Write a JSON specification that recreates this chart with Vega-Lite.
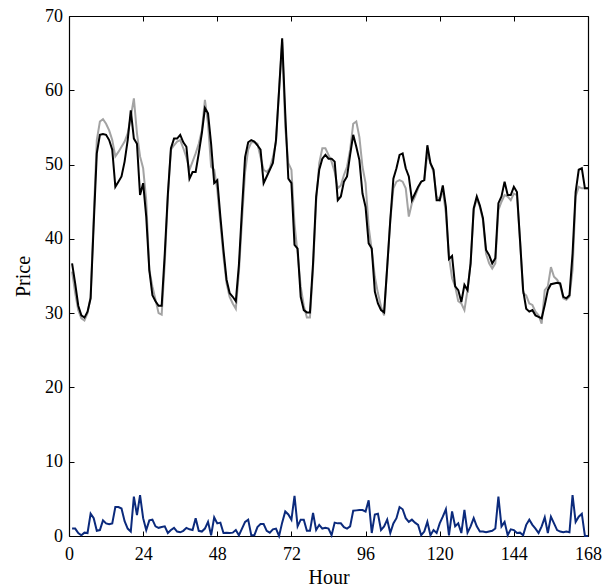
{
  "$schema": "https://vega.github.io/schema/vega-lite/v6.json",
  "width": 519,
  "height": 520,
  "autosize": {"type": "none"},
  "padding": {"left": 69, "top": 16, "right": 25, "bottom": 52},
  "background": "white",
  "config": {
    "view": {"stroke": null},
    "font": "Liberation Serif",
    "axis": {
      "grid": false,
      "domainColor": "black",
      "domainWidth": 1.2,
      "tickColor": "black",
      "tickWidth": 1,
      "tickSize": -5,
      "labelFont": "Liberation Serif",
      "labelFontSize": 18,
      "labelColor": "black",
      "titleFont": "Liberation Serif",
      "titleFontSize": 20,
      "titleFontWeight": "normal",
      "titleColor": "black"
    }
  },
  "data": {"values": [
    {"h":1,"forecast":36.7,"actual":35.6,"error":1.0},
    {"h":2,"forecast":34.0,"actual":32.7,"error":1.0},
    {"h":3,"forecast":31.0,"actual":30.4,"error":0.4},
    {"h":4,"forecast":29.7,"actual":29.3,"error":0.1},
    {"h":5,"forecast":29.4,"actual":29.0,"error":0.45},
    {"h":6,"forecast":30.2,"actual":30.0,"error":0.4},
    {"h":7,"forecast":32.0,"actual":32.2,"error":3.0},
    {"h":8,"forecast":42.0,"actual":43.0,"error":2.4},
    {"h":9,"forecast":51.5,"actual":53.3,"error":0.7},
    {"h":10,"forecast":54.0,"actual":55.8,"error":0.8},
    {"h":11,"forecast":54.1,"actual":56.1,"error":2.1},
    {"h":12,"forecast":54.0,"actual":55.5,"error":1.7},
    {"h":13,"forecast":53.3,"actual":54.6,"error":1.6},
    {"h":14,"forecast":52.0,"actual":53.3,"error":1.7},
    {"h":15,"forecast":47.0,"actual":51.1,"error":3.9},
    {"h":16,"forecast":47.7,"actual":51.7,"error":3.9},
    {"h":17,"forecast":48.4,"actual":52.4,"error":3.7},
    {"h":18,"forecast":50.4,"actual":53.1,"error":2.0},
    {"h":19,"forecast":53.3,"actual":54.2,"error":1.0},
    {"h":20,"forecast":57.3,"actual":56.4,"error":0.6},
    {"h":21,"forecast":53.5,"actual":58.9,"error":5.3},
    {"h":22,"forecast":52.8,"actual":54.2,"error":2.8},
    {"h":23,"forecast":45.9,"actual":51.1,"error":5.5},
    {"h":24,"forecast":47.5,"actual":49.5,"error":2.4},
    {"h":25,"forecast":43.0,"actual":45.2,"error":0.8},
    {"h":26,"forecast":35.8,"actual":35.8,"error":2.1},
    {"h":27,"forecast":32.4,"actual":33.6,"error":2.2},
    {"h":28,"forecast":31.6,"actual":31.8,"error":1.3},
    {"h":29,"forecast":31.0,"actual":30.0,"error":1.1},
    {"h":30,"forecast":31.0,"actual":29.8,"error":1.2},
    {"h":31,"forecast":38.0,"actual":36.7,"error":1.3},
    {"h":32,"forecast":46.0,"actual":45.7,"error":0.4},
    {"h":33,"forecast":52.2,"actual":52.0,"error":0.8},
    {"h":34,"forecast":53.5,"actual":52.6,"error":1.1},
    {"h":35,"forecast":53.5,"actual":53.1,"error":0.6},
    {"h":36,"forecast":54.0,"actual":53.3,"error":0.5},
    {"h":37,"forecast":53.0,"actual":52.2,"error":0.7},
    {"h":38,"forecast":52.4,"actual":51.0,"error":1.1},
    {"h":39,"forecast":48.1,"actual":49.3,"error":0.9},
    {"h":40,"forecast":49.0,"actual":50.4,"error":0.8},
    {"h":41,"forecast":49.0,"actual":51.5,"error":2.4},
    {"h":42,"forecast":51.5,"actual":52.8,"error":0.7},
    {"h":43,"forecast":54.2,"actual":54.6,"error":0.6},
    {"h":44,"forecast":57.6,"actual":58.7,"error":1.0},
    {"h":45,"forecast":56.9,"actual":55.5,"error":1.9},
    {"h":46,"forecast":52.8,"actual":49.7,"error":0.1},
    {"h":47,"forecast":47.5,"actual":49.3,"error":2.5},
    {"h":48,"forecast":47.9,"actual":46.6,"error":1.7},
    {"h":49,"forecast":43.0,"actual":42.1,"error":1.8},
    {"h":50,"forecast":38.5,"actual":37.6,"error":0.4},
    {"h":51,"forecast":34.5,"actual":34.0,"error":0.45},
    {"h":52,"forecast":32.7,"actual":32.2,"error":0.4},
    {"h":53,"forecast":32.2,"actual":31.3,"error":0.45},
    {"h":54,"forecast":31.6,"actual":30.6,"error":0.8},
    {"h":55,"forecast":36.5,"actual":35.5,"error":0.1},
    {"h":56,"forecast":44.0,"actual":42.5,"error":1.0},
    {"h":57,"forecast":51.0,"actual":49.0,"error":1.9},
    {"h":58,"forecast":53.0,"actual":52.0,"error":2.2},
    {"h":59,"forecast":53.3,"actual":53.0,"error":0.1},
    {"h":60,"forecast":53.1,"actual":53.0,"error":0.1},
    {"h":61,"forecast":52.6,"actual":52.8,"error":1.2},
    {"h":62,"forecast":52.0,"actual":51.0,"error":1.6},
    {"h":63,"forecast":47.5,"actual":49.3,"error":1.6},
    {"h":64,"forecast":48.4,"actual":49.0,"error":0.7},
    {"h":65,"forecast":49.3,"actual":49.5,"error":0.45},
    {"h":66,"forecast":50.2,"actual":51.0,"error":0.9},
    {"h":67,"forecast":53.3,"actual":53.0,"error":1.0},
    {"h":68,"forecast":60.0,"actual":60.0,"error":0.0},
    {"h":69,"forecast":67.0,"actual":66.5,"error":1.8},
    {"h":70,"forecast":56.9,"actual":55.0,"error":3.3},
    {"h":71,"forecast":48.1,"actual":50.2,"error":2.9},
    {"h":72,"forecast":47.5,"actual":49.3,"error":2.2},
    {"h":73,"forecast":39.2,"actual":42.0,"error":5.4},
    {"h":74,"forecast":38.7,"actual":38.0,"error":1.3},
    {"h":75,"forecast":32.2,"actual":33.6,"error":2.2},
    {"h":76,"forecast":30.4,"actual":31.0,"error":2.2},
    {"h":77,"forecast":30.1,"actual":29.4,"error":0.7},
    {"h":78,"forecast":30.1,"actual":29.4,"error":0.7},
    {"h":79,"forecast":36.7,"actual":36.0,"error":3.1},
    {"h":80,"forecast":45.7,"actual":45.0,"error":0.8},
    {"h":81,"forecast":49.3,"actual":50.2,"error":1.5},
    {"h":82,"forecast":50.8,"actual":52.2,"error":1.0},
    {"h":83,"forecast":51.3,"actual":52.2,"error":1.1},
    {"h":84,"forecast":50.8,"actual":51.3,"error":1.0},
    {"h":85,"forecast":50.8,"actual":50.4,"error":0.1},
    {"h":86,"forecast":50.4,"actual":49.0,"error":1.8},
    {"h":87,"forecast":45.2,"actual":46.8,"error":1.7},
    {"h":88,"forecast":45.7,"actual":47.2,"error":1.7},
    {"h":89,"forecast":47.7,"actual":48.6,"error":1.2},
    {"h":90,"forecast":48.4,"actual":49.7,"error":1.0},
    {"h":91,"forecast":51.3,"actual":52.0,"error":1.3},
    {"h":92,"forecast":54.0,"actual":55.5,"error":3.4},
    {"h":93,"forecast":52.4,"actual":55.8,"error":3.45},
    {"h":94,"forecast":50.6,"actual":53.7,"error":3.5},
    {"h":95,"forecast":46.1,"actual":49.7,"error":3.5},
    {"h":96,"forecast":44.3,"actual":47.5,"error":3.3},
    {"h":97,"forecast":39.4,"actual":41.6,"error":4.8},
    {"h":98,"forecast":38.7,"actual":38.5,"error":0.4},
    {"h":99,"forecast":32.9,"actual":34.9,"error":2.9},
    {"h":100,"forecast":31.3,"actual":32.7,"error":3.0},
    {"h":101,"forecast":30.4,"actual":30.9,"error":0.8},
    {"h":102,"forecast":30.1,"actual":29.7,"error":1.3},
    {"h":103,"forecast":36.2,"actual":36.2,"error":2.2},
    {"h":104,"forecast":42.5,"actual":42.5,"error":0.4},
    {"h":105,"forecast":48.1,"actual":46.8,"error":1.7},
    {"h":106,"forecast":49.5,"actual":47.7,"error":2.4},
    {"h":107,"forecast":51.3,"actual":47.9,"error":3.9},
    {"h":108,"forecast":51.5,"actual":47.7,"error":3.6},
    {"h":109,"forecast":49.5,"actual":46.8,"error":2.4},
    {"h":110,"forecast":48.4,"actual":43.0,"error":1.9},
    {"h":111,"forecast":45.2,"actual":44.8,"error":2.2},
    {"h":112,"forecast":46.1,"actual":45.7,"error":1.8},
    {"h":113,"forecast":47.0,"actual":46.8,"error":1.5},
    {"h":114,"forecast":47.7,"actual":47.7,"error":0.1},
    {"h":115,"forecast":47.9,"actual":47.9,"error":0.6},
    {"h":116,"forecast":52.6,"actual":51.5,"error":1.9},
    {"h":117,"forecast":50.2,"actual":50.2,"error":0.1},
    {"h":118,"forecast":49.3,"actual":49.0,"error":0.8},
    {"h":119,"forecast":45.2,"actual":45.7,"error":0.4},
    {"h":120,"forecast":45.2,"actual":45.2,"error":1.7},
    {"h":121,"forecast":47.2,"actual":46.6,"error":2.6},
    {"h":122,"forecast":44.3,"actual":43.4,"error":3.6},
    {"h":123,"forecast":37.3,"actual":37.6,"error":0.1},
    {"h":124,"forecast":37.7,"actual":34.7,"error":3.3},
    {"h":125,"forecast":33.6,"actual":33.6,"error":1.3},
    {"h":126,"forecast":33.1,"actual":31.6,"error":1.7},
    {"h":127,"forecast":31.5,"actual":31.3,"error":0.4},
    {"h":128,"forecast":33.8,"actual":30.4,"error":3.5},
    {"h":129,"forecast":33.1,"actual":33.1,"error":0.45},
    {"h":130,"forecast":36.7,"actual":36.7,"error":1.3},
    {"h":131,"forecast":44.1,"actual":43.9,"error":2.4},
    {"h":132,"forecast":45.7,"actual":45.4,"error":1.3},
    {"h":133,"forecast":44.5,"actual":44.3,"error":0.6},
    {"h":134,"forecast":42.8,"actual":42.5,"error":0.6},
    {"h":135,"forecast":38.5,"actual":38.0,"error":0.5},
    {"h":136,"forecast":37.8,"actual":36.7,"error":0.6},
    {"h":137,"forecast":36.7,"actual":36.0,"error":0.7},
    {"h":138,"forecast":37.4,"actual":36.7,"error":1.0},
    {"h":139,"forecast":44.8,"actual":43.9,"error":5.3},
    {"h":140,"forecast":45.7,"actual":45.0,"error":1.3},
    {"h":141,"forecast":47.7,"actual":45.9,"error":1.9},
    {"h":142,"forecast":45.9,"actual":45.7,"error":0.1},
    {"h":143,"forecast":45.9,"actual":45.2,"error":0.9},
    {"h":144,"forecast":47.0,"actual":46.1,"error":0.8},
    {"h":145,"forecast":46.3,"actual":45.9,"error":0.4},
    {"h":146,"forecast":39.8,"actual":39.8,"error":0.45},
    {"h":147,"forecast":33.1,"actual":32.7,"error":0.1},
    {"h":148,"forecast":30.6,"actual":32.4,"error":1.5},
    {"h":149,"forecast":30.2,"actual":31.3,"error":2.2},
    {"h":150,"forecast":30.4,"actual":31.1,"error":1.5},
    {"h":151,"forecast":29.7,"actual":30.2,"error":1.0},
    {"h":152,"forecast":29.5,"actual":29.7,"error":0.4},
    {"h":153,"forecast":29.3,"actual":28.6,"error":1.3},
    {"h":154,"forecast":31.1,"actual":33.1,"error":2.5},
    {"h":155,"forecast":33.1,"actual":33.6,"error":0.4},
    {"h":156,"forecast":33.9,"actual":36.2,"error":2.6},
    {"h":157,"forecast":34.0,"actual":34.9,"error":1.7},
    {"h":158,"forecast":34.1,"actual":34.5,"error":0.8},
    {"h":159,"forecast":34.0,"actual":33.8,"error":0.6},
    {"h":160,"forecast":32.2,"actual":32.0,"error":0.5},
    {"h":161,"forecast":32.0,"actual":31.8,"error":0.6},
    {"h":162,"forecast":32.4,"actual":32.2,"error":0.5},
    {"h":163,"forecast":38.0,"actual":35.8,"error":5.5},
    {"h":164,"forecast":46.3,"actual":45.7,"error":1.9},
    {"h":165,"forecast":49.3,"actual":47.0,"error":2.6},
    {"h":166,"forecast":49.5,"actual":46.8,"error":3.0},
    {"h":167,"forecast":46.8,"actual":46.8,"error":0.0},
    {"h":168,"forecast":46.8,"actual":46.8,"error":0.0}
  ]},
  "layer": [
    {
      "mark": {"type": "line", "color": "#a3a3a3", "strokeWidth": 2},
      "encoding": {
        "x": {"field": "h", "type": "quantitative", "scale": {"domain": [0, 168], "nice": false},
              "axis": {"orient": "bottom", "title": "Hour", "values": [0,24,48,72,96,120,144,168], "labelPadding": 14, "titlePadding": 4, "labelFlush": false}},
        "y": {"field": "actual", "type": "quantitative", "scale": {"domain": [0, 70], "nice": false},
              "axis": {"orient": "left", "title": "Price", "values": [0,10,20,30,40,50,60,70], "labelPadding": 11.5, "titlePadding": 11, "labelFlush": false}}
      }
    },
    {
      "mark": {"type": "line", "color": "#000000", "strokeWidth": 2},
      "encoding": {
        "x": {"field": "h", "type": "quantitative", "scale": {"domain": [0, 168], "nice": false},
              "axis": {"orient": "top", "title": null, "labels": false, "values": [0,24,48,72,96,120,144,168]}},
        "y": {"field": "forecast", "type": "quantitative", "scale": {"domain": [0, 70], "nice": false},
              "axis": {"orient": "right", "title": null, "labels": false, "values": [0,10,20,30,40,50,60,70]}}
      }
    },
    {
      "mark": {"type": "line", "color": "#0b2a7c", "strokeWidth": 2},
      "encoding": {
        "x": {"field": "h", "type": "quantitative", "scale": {"domain": [0, 168], "nice": false}, "axis": null},
        "y": {"field": "error", "type": "quantitative", "scale": {"domain": [0, 70], "nice": false}, "axis": null}
      }
    }
  ],
  "resolve": {"axis": {"x": "independent", "y": "independent"}}
}
